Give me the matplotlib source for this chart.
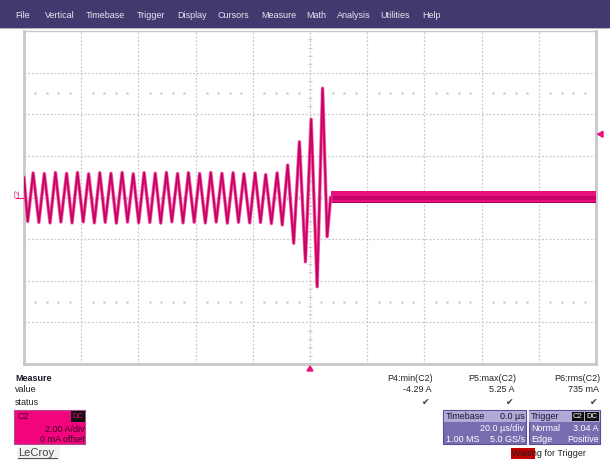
"""LeCroy scope screen: C2 current burst before trigger."""

import matplotlib

matplotlib.use("Agg")
import matplotlib.pyplot as plt
from matplotlib.patches import Rectangle, Polygon

W, H = 610, 469

# C2 trace extrema (time in us, current in A)
TRACE_T = [
    -100.0, -98.7, -96.8, -94.8, -92.9, -90.9, -89.0, -87.1, -85.1, -83.2, -81.3,
    -79.3, -77.4, -75.4, -73.5, -71.6, -69.6, -67.7, -65.7, -63.8, -61.8,
    -59.9, -58.0, -56.0, -54.1, -52.2, -50.2, -48.3, -46.3, -44.4, -42.5,
    -40.5, -38.6, -36.6, -34.7, -32.8, -30.8, -28.9, -26.9, -25.0, -23.1,
    -21.1, -19.2, -17.3, -15.5, -13.5, -11.5, -9.7, -7.8, -5.7, -3.7,
    -1.6, 0.4, 2.5, 4.4, 6.0, 7.2,
]
TRACE_I = [
    0.95, -1.15, 1.18, -1.20, 1.15, -1.22, 1.20, -1.18, 1.16, -1.22, 1.20,
    -1.17, 1.14, -1.22, 1.19, -1.19, 1.16, -1.23, 1.20, -1.18, 1.14,
    -1.21, 1.19, -1.20, 1.16, -1.23, 1.20, -1.17, 1.15, -1.22, 1.19,
    -1.19, 1.15, -1.22, 1.20, -1.18, 1.16, -1.23, 1.19, -1.19, 1.14,
    -1.22, 1.18, -1.20, 1.10, -1.25, 1.18, -1.32, 1.56, -2.20, 2.68,
    -3.09, 3.76, -4.29, 5.25, -1.88, 0.0,
]
# noise band after the burst
BAND_T = [7.2, 100.0]
BAND_LO = [-0.28, -0.28]
BAND_HI = [0.30, 0.30]

MENU = ["File", "Vertical", "Timebase", "Trigger", "Display", "Cursors",
        "Measure", "Math", "Analysis", "Utilities", "Help"]
MENU_X = [15, 45, 86, 137, 177, 218, 261.5, 306, 337, 380.5, 422]

PARAMS = ["P4:min(C2)", "P5:max(C2)", "P6:rms(C2)"]
PARAM_VALUES = ["-4.29 A", "5.25 A", "735 mA"]

TRIG_LEVEL = 3.04
PINK = "#e8107c"
DARK_PINK = "#a0004e"
GRID = "#c8c8c8"

plt.rcParams["font.family"] = ["Liberation Sans", "DejaVu Sans"]
FS = 6.5


def fx(x):
    return x / W


def fy(y):
    return 1 - y / H


fig = plt.figure(figsize=(W / 100, H / 100), dpi=100)
fig.patch.set_facecolor("white")

# menu bar
fig.patches.append(Rectangle((0, fy(28)), 1, 28 / H, transform=fig.transFigure,
                             facecolor="#44396f", edgecolor="none"))
fig.patches.append(Rectangle((0, fy(29)), 1, 1 / H, transform=fig.transFigure,
                             facecolor="#b8b4c8", edgecolor="none"))
for name, x in zip(MENU, MENU_X):
    fig.text(fx(x), fy(15.5), name, color="#e8e6f0", fontsize=FS, va="center")

# scope grid
ax = fig.add_axes([fx(24), fy(364), (596 - 24) / W, (364 - 31) / H])
ax.set_xlim(-100, 100)
ax.set_ylim(-8, 8)
ax.set_xticks([])
ax.set_yticks([])
for side in ["left", "bottom", "right"]:
    ax.spines[side].set_color("#c8c8c8")
    ax.spines[side].set_linewidth(2)
ax.spines["top"].set_color("#c8c8c8")
ax.spines["top"].set_linewidth(1)

for t in range(-80, 100, 20):
    ax.axvline(t, color=GRID, lw=0.9, ls=(0, (1.5, 1.5)), zorder=1)
for v in range(-6, 8, 2):
    ax.axhline(v, color=GRID, lw=0.9, ls=(0, (1.5, 1.5)), zorder=1)

# minor ticks on the centre cross and dot rows
minor_t = [t * 4 for t in range(-24, 25) if t % 5 != 0]
minor_v = [v * 0.4 for v in range(-19, 20) if v % 5 != 0]
ax.plot(minor_t, [0] * len(minor_t), ls="none", marker="|", ms=3.5,
        mew=0.8, color=GRID, zorder=1)
ax.plot([0] * len(minor_v), minor_v, ls="none", marker="_", ms=3.5,
        mew=0.8, color=GRID, zorder=1)
for row in (5, -5):
    ax.plot(minor_t, [row] * len(minor_t), ls="none", marker="s", ms=0.8,
            color="#d0d0d0", zorder=1)

# trace
ax.fill_between(BAND_T, BAND_LO, BAND_HI, color=PINK, lw=0, zorder=3)
ax.fill_between(BAND_T, [v * 0.45 for v in BAND_LO], [v * 0.3 for v in BAND_HI],
                color="#c8006c", lw=0, zorder=3)
ax.fill_between(BAND_T, [v * 1.0 for v in BAND_LO], [v * 0.75 for v in BAND_LO],
                color="#a8005a", lw=0, zorder=3)
ax.plot(TRACE_T, TRACE_I, color="#f06aa8", lw=2.6, zorder=4,
        solid_joinstyle="round", alpha=0.8)
ax.plot(TRACE_T, TRACE_I, color=PINK, lw=1.7, zorder=4,
        solid_joinstyle="round")
ax.plot(TRACE_T, TRACE_I, color=DARK_PINK, lw=0.7, alpha=0.7, zorder=5,
        solid_joinstyle="round")

# channel label and markers
fig.text(fx(18.5), fy(193), "C2", color=PINK, fontsize=5, rotation=90,
         ha="center", va="center")
fig.lines.append(plt.Line2D([fx(16), fx(23)], [fy(197.5), fy(197.5)],
                            transform=fig.transFigure, color=PINK, lw=0.8))
trig_y = 31 + (8 - TRIG_LEVEL) / 16 * 333
fig.patches.append(Polygon([(fx(597.5), fy(trig_y)), (fx(603), fy(trig_y - 3)),
                            (fx(603), fy(trig_y + 3))], closed=True,
                           transform=fig.transFigure, color=PINK))
fig.patches.append(Polygon([(fx(310), fy(366)), (fx(307), fy(371)),
                            (fx(313), fy(371))], closed=True,
                           transform=fig.transFigure, color=PINK))

# measure table
fig.text(fx(15), fy(378), "Measure", fontsize=FS, weight="bold", color="#1a1a2a",
         va="center")
fig.text(fx(15), fy(390), "value", fontsize=FS, color="#222", va="center")
fig.text(fx(15), fy(402.3), "status", fontsize=FS, color="#222", va="center")
for name, val, xr in zip(PARAMS, PARAM_VALUES, [432.7, 516, 600]):
    fig.text(fx(xr), fy(378), name, fontsize=FS, color="#222", ha="right", va="center")
    fig.text(fx(xr - 1.5), fy(390), val, fontsize=FS, color="#222", ha="right",
             va="center")
    fig.text(fx(xr - 3), fy(402.5), "\u2714", fontsize=FS, color="#333",
             ha="right", va="center", family="DejaVu Sans")


def box(x0, y0, x1, y1, face, edge="none", lw=0.0):
    fig.patches.append(Rectangle((fx(x0), fy(y1)), (x1 - x0) / W, (y1 - y0) / H,
                                 transform=fig.transFigure, facecolor=face,
                                 edgecolor=edge, lw=lw))


def label(x, y, s, color, ha="left", size=FS):
    fig.text(fx(x), fy(y), s, fontsize=size, color=color, ha=ha, va="center")


# channel descriptor
box(14, 410, 85, 443.5, "#f2047e", "#b05090", 0.8)
label(18, 416.5, "C2", "#3a0020")
box(71, 411, 85, 421.5, "#111111")
label(78, 416.3, "DC", "#f2047e", ha="center", size=5.5)
label(85, 429, "2.00 A/div", "#3a0020", ha="right")
label(85, 439, "0 mA offset", "#3a0020", ha="right")

# timebase descriptor
box(443.5, 410, 526, 443.5, "#7a6cb0", "#5b4f92", 0.8)
box(444, 410.5, 525.5, 421.5, "#b2a9d8")
label(446, 416, "Timebase", "#1c1830")
label(524.5, 416, "0.0 \u00b5s", "#1c1830", ha="right")
label(524.5, 428, "20.0 \u00b5s/div", "white", ha="right")
label(446, 439, "1.00 MS", "white")
label(524.5, 439, "5.0 GS/s", "white", ha="right")

# trigger descriptor
box(528.5, 410, 600, 443.5, "#7a6cb0", "#5b4f92", 0.8)
box(529, 410.5, 599.5, 421.5, "#b2a9d8")
label(531, 416, "Trigger", "#1c1830")
box(571.5, 411.5, 584, 421, "#111111")
box(585, 411.5, 599, 421, "#111111")
label(577.7, 416.3, "C2", "white", ha="center", size=5.5)
label(592, 416.3, "DC", "white", ha="center", size=5.5)
label(531, 428, "Normal", "white")
label(598.5, 428, "3.04 A", "white", ha="right")
label(531, 439, "Edge", "white")
label(598.5, 439, "Positive", "white", ha="right")

# status line
box(511, 447.5, 535, 458.5, "#c40000")
label(512, 453, "Waiting for Trigger", "#222")

# logo
box(17, 445, 60, 460, "#f2f2f2")
fig.text(fx(18), fy(452.5), "LeCroy", fontsize=8, color="#444", va="center")
fig.lines.append(plt.Line2D([fx(18), fx(57)], [fy(458), fy(458)],
                            transform=fig.transFigure, color="#555", lw=0.8))

fig.savefig("out.png", dpi=100)
